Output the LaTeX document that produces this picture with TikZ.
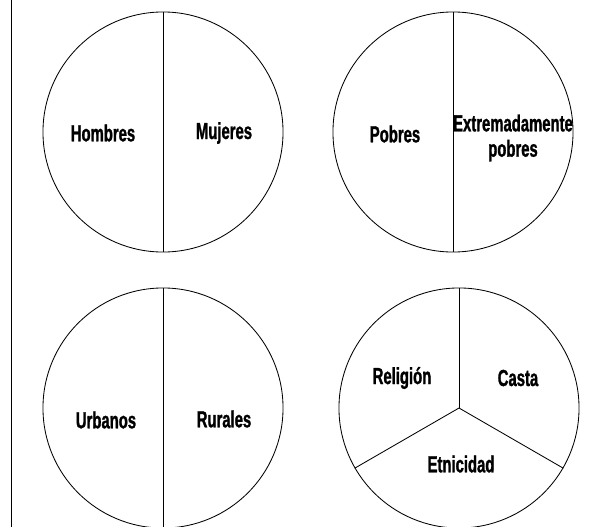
\documentclass[tikz,border=0pt]{standalone}
\usepackage{fontspec}
\setmainfont{Liberation Sans}[FakeStretch=0.64, BoldFeatures={FakeBold=1.2}]
\usetikzlibrary{positioning}

\begin{document}
\begin{tikzpicture}[
    x=0.025cm, y=-0.025cm,
    pie/.style={circle, draw=black, line width=0.6pt, minimum size=6cm, inner sep=0pt},
    divider/.style={draw=black, line width=0.6pt},
    seglabel/.style={font=\fontsize{16.5}{18}\selectfont\bfseries, align=center, inner sep=0pt}
]
\useasboundingbox (0,0) rectangle (594,527);

% Left rule
\coordinate (rtop) at (11,0);
\coordinate (rbot) at (11,527);
\draw[divider] (rtop) -- (rbot);

% Circles
\node[pie] (c1) at (163,132) {};
\node[pie] (c2) at (453,132) {};
\node[pie] (c3) at (163,408) {};
\node[pie] (c4) at (459,408) {};

% Dividers
\draw[divider] (c1.north) -- (c1.south);
\draw[divider] (c2.north) -- (c2.south);
\draw[divider] (c3.north) -- (c3.south);
\draw[divider] (c4.center) -- (c4.north);
\draw[divider] (c4.center) -- (c4.210);
\draw[divider] (c4.center) -- (c4.330);

% Labels
\node[seglabel] (hombres) at (103,133) {Hombres};
\node[seglabel] (mujeres) at (224,133) {Mujeres};
\node[seglabel] (pobres) at (395,134) {Pobres};
\node[seglabel] (extrem) at (513,138) {Extremadamente\\pobres};
\node[seglabel] (urbanos) at (106,420) {Urbanos};
\node[seglabel] (rurales) at (224,419) {Rurales};
\node[seglabel] (religion) at (402,378) {Religión};
\node[seglabel] (casta) at (518,378) {Casta};
\node[seglabel] (etnia) at (461,464) {Etnicidad};
\end{tikzpicture}
\end{document}
